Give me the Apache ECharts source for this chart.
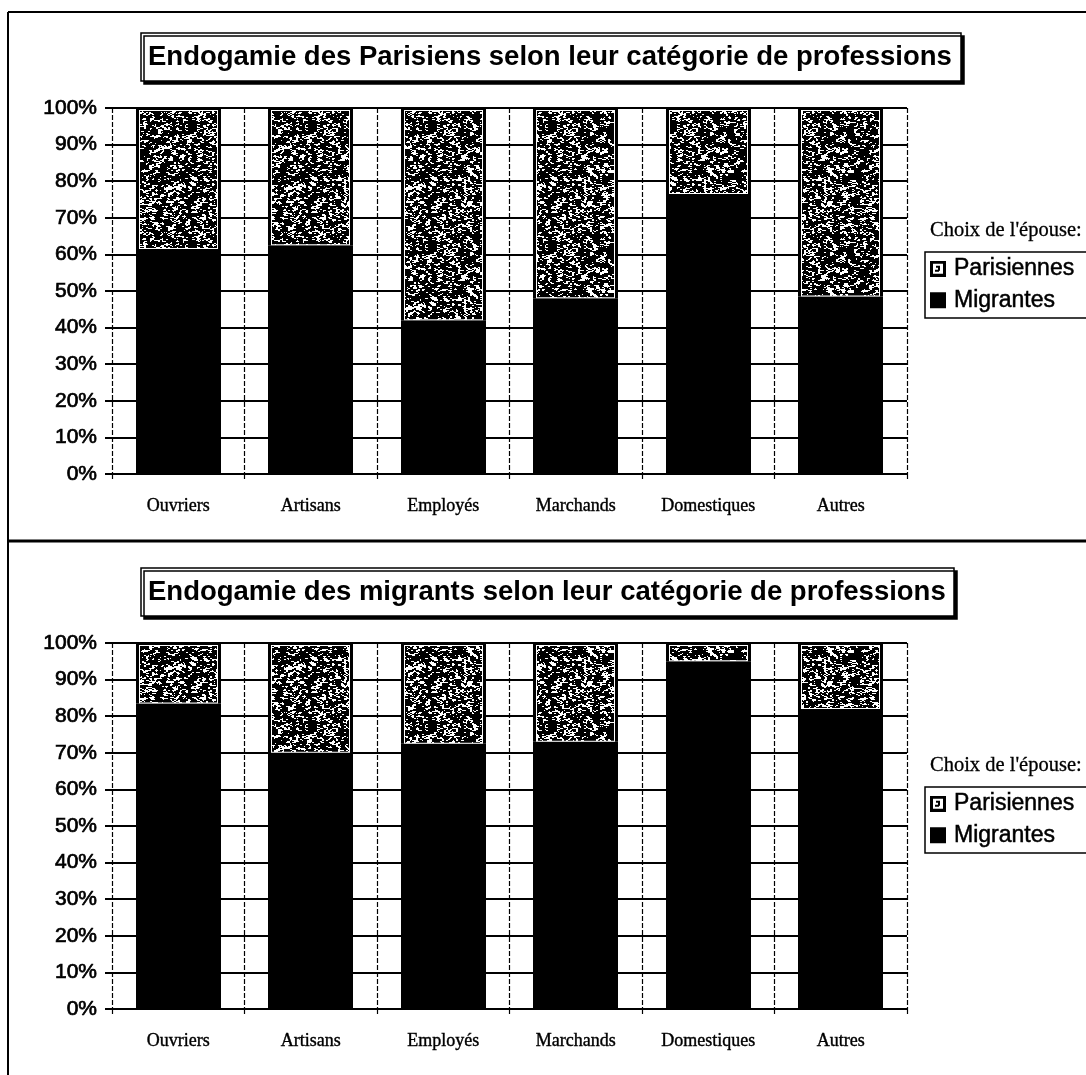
<!DOCTYPE html>
<html>
<head>
<meta charset="utf-8">
<script src="https://cdn.jsdelivr.net/npm/echarts@6/dist/echarts.min.js"></script>
<style>
  html, body { margin: 0; padding: 0; background: #fff; }
  #chart { width: 1086px; height: 1075px; }
</style>
</head>
<body>
<div id="chart"></div>
<script>
// Occupational categories (x axis)
const categories = ['Ouvriers', 'Artisans', 'Employés', 'Marchands', 'Domestiques', 'Autres'];
// Y-axis ticks, in percent
const yTicks = [0, 10, 20, 30, 40, 50, 60, 70, 80, 90, 100];

// Parisian men: share of wives by origin (%)
const parisiensMigrantes   = [61.5, 62.5, 42, 48, 76.5, 48.5];
const parisiensParisiennes = [38.5, 37.5, 58, 52, 23.5, 51.5];

// Migrant men: share of wives by origin (%)
const migrantsMigrantes    = [83.5, 70, 72.5, 73, 95, 82];
const migrantsParisiennes  = [16.5, 30, 27.5, 27, 5, 18];

const titles = [
  'Endogamie des Parisiens selon leur catégorie de professions',
  'Endogamie des migrants selon leur catégorie de professions'
];
const legendCaption = "Choix de l'épouse:";
const legendNames = ['Parisiennes', 'Migrantes'];

// Deterministic speckle texture used for the "Parisiennes" segments
function hash(x, y) {
  let h = (x * 374761393 + y * 668265263) | 0;
  h = (h ^ (h >>> 13)) * 1274126177 | 0;
  h = h ^ (h >>> 16);
  return (h >>> 0) / 4294967296;
}
function smooth(x, y) {
  const x0 = Math.floor(x), y0 = Math.floor(y);
  const fx = x - x0, fy = y - y0;
  const a = hash(x0, y0), b = hash(x0 + 1, y0), c = hash(x0, y0 + 1), d = hash(x0 + 1, y0 + 1);
  const ux = fx * fx * (3 - 2 * fx), uy = fy * fy * (3 - 2 * fy);
  return a + (b - a) * ux + (c - a) * uy + (a - b - c + d) * ux * uy;
}
function makeSpeckle(size) {
  const cv = document.createElement('canvas');
  cv.width = size; cv.height = size;
  const ctx = cv.getContext('2d');
  const img = ctx.createImageData(size, size);
  for (let y = 0; y < size; y++) {
    for (let x = 0; x < size; x++) {
      const n = 0.6 * smooth(x / 3, y / 2) + 0.4 * hash(x >> 1, y + 991);
      const v = n > 0.6 ? 255 : 0;
      const k = (y * size + x) * 4;
      img.data[k] = v; img.data[k + 1] = v; img.data[k + 2] = v; img.data[k + 3] = 255;
    }
  }
  ctx.putImageData(img, 0, 0);
  return cv;
}
const speckle = makeSpeckle(120);

// Small legend swatch: framed white square with a mark
function makeSwatch() {
  const cv = document.createElement('canvas');
  cv.width = 16; cv.height = 16;
  const ctx = cv.getContext('2d');
  ctx.fillStyle = '#000'; ctx.fillRect(0, 0, 16, 16);
  ctx.fillStyle = '#fff'; ctx.fillRect(3, 3, 10, 10);
  ctx.fillStyle = '#000'; ctx.fillRect(6, 5, 4, 2); ctx.fillRect(8, 7, 2, 3); ctx.fillRect(5, 9, 4, 2);
  return cv.toDataURL();
}
const swatch = makeSwatch();

const BAR_RATIO = 0.64;

function renderMigrantes(params, api) {
  const i = api.value(0), lo = api.value(1), hi = api.value(2);
  const pLo = api.coord([i, lo]), pHi = api.coord([i, hi]);
  const w = Math.round(api.size([1, 0])[0] * BAR_RATIO);
  const x = Math.round(pLo[0] - w / 2);
  return {
    type: 'rect',
    shape: { x: x, y: pHi[1], width: w, height: pLo[1] - pHi[1] },
    style: { fill: '#000' }
  };
}

function renderParisiennes(params, api) {
  const i = api.value(0), lo = api.value(1), hi = api.value(2);
  const pLo = api.coord([i, lo]), pHi = api.coord([i, hi]);
  const w = Math.round(api.size([1, 0])[0] * BAR_RATIO);
  const x = Math.round(pLo[0] - w / 2);
  const y = pHi[1] - 1, h = pLo[1] - pHi[1] + 1;
  return {
    type: 'group',
    children: [
      { type: 'rect', shape: { x: x, y: y, width: w, height: h }, style: { fill: '#000' } },
      { type: 'rect', shape: { x: x + 3, y: y + 3, width: w - 6, height: h - 3 }, style: { fill: '#fff' } },
      { type: 'rect', shape: { x: x + 4, y: y + 4, width: w - 8, height: h - 5 },
        style: { fill: { image: speckle, repeat: 'repeat' } } }
    ]
  };
}

function segments(base, add) {
  return base.map((b, i) => [i, b, b + add[i]]);
}
function bottoms(vals) {
  return vals.map((v, i) => [i, 0, v]);
}

const PANEL_SHIFT = 535;
const gridTop = [108, 108 + PANEL_SHIFT];

const panels = [
  { mig: parisiensMigrantes, par: parisiensParisiennes },
  { mig: migrantsMigrantes, par: migrantsParisiennes }
];

const dashed = [5, 2];
const sans = 'Liberation Sans, Arial';
const serif = 'Liberation Serif, Times New Roman';

const option = {
  backgroundColor: '#fff',
  animation: false,
  title: [].concat(
    titles.map((t, k) => ({
      text: t,
      left: 141,
      top: 33 + k * PANEL_SHIFT,
      padding: [10, 9, 10, 7],
      backgroundColor: '#fff',
      borderColor: '#000',
      borderWidth: 1.5,
      shadowColor: '#000',
      shadowBlur: 0,
      shadowOffsetX: 3,
      shadowOffsetY: 3,
      textStyle: { fontFamily: sans, fontWeight: 'bold', fontSize: 27.5, color: '#000' }
    })),
    [0, 1].map(k => ({
      text: legendCaption,
      left: 930,
      top: 220 + k * PANEL_SHIFT,
      padding: 0,
      textStyle: { fontFamily: serif, fontWeight: 'normal', fontSize: 20.5, color: '#000',
                   textBorderColor: '#000', textBorderWidth: 0.3 }
    }))
  ),
  legend: [0, 1].map(k => ({
    orient: 'vertical',
    left: 925,
    top: 252 + k * PANEL_SHIFT,
    data: [
      { name: legendNames[0], icon: 'image://' + swatch },
      { name: legendNames[1], icon: 'rect' }
    ],
    itemWidth: 16,
    itemHeight: 16,
    itemGap: 8,
    selectedMode: false,
    backgroundColor: '#fff',
    borderColor: '#000',
    borderWidth: 1.5,
    padding: [5, 60, 6, 5],
    textStyle: { fontFamily: sans, fontSize: 23, color: '#000', padding: [0, 0, 0, 3],
                 textBorderColor: '#000', textBorderWidth: 0.5 }
  })),
  grid: gridTop.map(t => ({ left: 112, top: t, width: 795, height: 366 })),
  xAxis: [0, 1].map(k => ({
    type: 'category',
    gridIndex: k,
    data: categories,
    axisLine: { lineStyle: { color: '#000', width: 2 } },
    axisTick: { show: true, length: 7, lineStyle: { color: '#000', width: 1.2, type: dashed } },
    axisLabel: { color: '#000', fontFamily: serif, fontSize: 18, margin: 23,
                 textBorderColor: '#000', textBorderWidth: 0.4 },
    splitLine: { show: true, lineStyle: { color: '#000', width: 1.2, type: dashed } }
  })),
  yAxis: [0, 1].map(k => ({
    type: 'value',
    gridIndex: k,
    min: yTicks[0],
    max: yTicks[yTicks.length - 1],
    interval: yTicks[1] - yTicks[0],
    axisLine: { show: false },
    axisTick: { show: true, length: 7, lineStyle: { color: '#000', width: 2 } },
    axisLabel: { formatter: '{value}%', color: '#000', fontFamily: sans, fontSize: 21, margin: 15,
                 textBorderColor: '#000', textBorderWidth: 0.7 },
    splitLine: { show: true, lineStyle: { color: '#000', width: 2 } }
  })),
  series: [].concat(...panels.map((p, k) => ([
    {
      name: legendNames[1],
      type: 'custom',
      xAxisIndex: k, yAxisIndex: k,
      itemStyle: { color: '#000' },
      encode: { x: 0, y: [1, 2] },
      renderItem: renderMigrantes,
      data: bottoms(p.mig)
    },
    {
      name: legendNames[0],
      type: 'custom',
      xAxisIndex: k, yAxisIndex: k,
      itemStyle: { color: '#555' },
      encode: { x: 0, y: [1, 2] },
      renderItem: renderParisiennes,
      data: segments(p.mig, p.par)
    }
  ]))),
  graphic: [
    { type: 'line', shape: { x1: 8, y1: 12, x2: 1086, y2: 12 }, style: { stroke: '#000', lineWidth: 2 } },
    { type: 'line', shape: { x1: 8, y1: 12, x2: 8, y2: 1075 }, style: { stroke: '#000', lineWidth: 2 } },
    { type: 'line', shape: { x1: 8, y1: 541, x2: 1086, y2: 541 }, style: { stroke: '#000', lineWidth: 3 } }
  ]
};

const chart = echarts.init(document.getElementById('chart'), null, { renderer: 'canvas' });
chart.setOption(option);
</script>
</body>
</html>
